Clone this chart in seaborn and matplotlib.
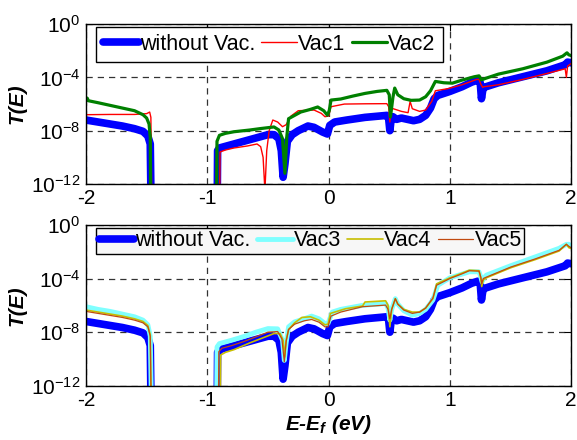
import numpy as np
import pandas as pd
import matplotlib
matplotlib.use("Agg")
import matplotlib.pyplot as plt
from matplotlib import ticker
import seaborn as sns

# ---- transmission spectra, stored as (energy, log10 T) pairs ----
# values of -16 stand for the gap region where T(E) vanishes
pristine_E = [-2.00, -1.90, -1.80, -1.70, -1.60, -1.53, -1.49, -1.47, -1.46, -0.92, -0.915, -0.90, -0.80, -0.70,
              -0.60, -0.50, -0.45, -0.41, -0.39, -0.375, -0.36, -0.34, -0.30, -0.25, -0.17, -0.12, -0.05, -0.01,
              0.01, 0.05, 0.15, 0.30, 0.48, 0.495, 0.505, 0.515, 0.53, 0.56, 0.60, 0.65, 0.70, 0.75, 0.80, 0.84,
              0.87, 0.90, 1.00, 1.10, 1.18, 1.23, 1.25, 1.26, 1.27, 1.28, 1.40, 1.60, 1.80, 1.95, 1.97, 2.00]
pristine_logT = [-7.2, -7.35, -7.5, -7.65, -7.85, -8.05, -8.4, -9.0, -16, -16, -9.5, -9.3, -9.05, -8.8,
                 -8.55, -8.3, -8.3, -8.6, -9.5, -11.5, -10.5, -8.8, -8.3, -8.0, -7.65, -7.75, -8.1, -8.25,
                 -7.6, -7.35, -7.2, -7.0, -6.85, -7.1, -8.0, -7.2, -6.95, -7.15, -7.05, -7.15, -7.25, -7.15, -6.85, -6.3,
                 -5.6, -5.35, -5.05, -4.7, -4.35, -4.2, -4.4, -5.6, -5.0, -4.75, -4.4, -3.95, -3.5, -3.05, -2.85, -2.9]

vac1_E = [-2.00, -1.80, -1.60, -1.50, -1.475, -1.465, -1.455, -0.90, -0.895, -0.85, -0.78, -0.67, -0.59, -0.56,
          -0.54, -0.525, -0.51, -0.49, -0.46, -0.42, -0.38, -0.35, -0.31, -0.25, -0.12, -0.06, -0.03, 0.00,
          0.02, 0.13, 0.30, 0.48, 0.495, 0.505, 0.515, 0.55, 0.60, 0.655, 0.672, 0.69, 0.75, 0.80, 0.85, 0.88,
          0.98, 1.10, 1.22, 1.24, 1.255, 1.27, 1.28, 1.40, 1.60, 1.80, 1.93, 1.95, 1.96, 1.97, 2.00]
vac1_logT = [-6.8, -6.78, -6.78, -6.72, -6.6, -7.0, -16, -16, -9.6, -9.45, -9.3, -9.15, -9.0, -9.2,
             -10.0, -12.5, -9.5, -8.0, -7.2, -7.35, -7.7, -7.55, -6.9, -6.5, -6.45, -6.7, -6.95, -6.9,
             -6.2, -6.0, -5.98, -5.97, -6.2, -7.35, -6.3, -6.4, -6.55, -6.65, -5.8, -6.35, -6.55, -6.45, -5.8, -5.0,
             -4.85, -4.55, -4.15, -4.15, -4.5, -4.75, -4.7, -4.55, -4.15, -3.7, -3.4, -3.35, -4.0, -3.15, -2.95]

vac2_E = [-2.00, -1.99, -1.98, -1.90, -1.80, -1.70, -1.60, -1.53, -1.50, -1.48, -1.47, -1.465, -0.925, -0.92,
          -0.90, -0.85, -0.78, -0.65, -0.56, -0.45, -0.41, -0.38, -0.36, -0.345, -0.33, -0.30, -0.23, -0.15,
          -0.09, -0.04, -0.01, 0.005, 0.02, 0.10, 0.20, 0.30, 0.40, 0.48, 0.50, 0.51, 0.53, 0.545, 0.57, 0.62,
          0.68, 0.75, 0.80, 0.84, 0.88, 0.95, 1.02, 1.10, 1.20, 1.24, 1.26, 1.30, 1.40, 1.60, 1.80, 1.93,
          1.965, 1.98, 2.00]
vac2_logT = [-5.75, -5.55, -5.75, -5.9, -6.1, -6.3, -6.5, -6.8, -7.05, -7.5, -8.5, -16, -16, -8.8,
             -8.35, -8.2, -8.08, -7.95, -7.84, -7.72, -7.95, -8.6, -11.2, -8.5, -7.1, -6.95, -6.6, -6.4,
             -6.22, -6.5, -6.84, -6.5, -5.7, -5.62, -5.4, -5.2, -5.05, -4.97, -5.3, -6.97, -5.5, -4.8, -5.3, -5.6,
             -5.72, -5.7, -5.45, -5.0, -4.3, -4.4, -4.43, -4.2, -3.95, -3.88, -4.18, -4.05, -3.75, -3.35, -2.85, -2.4,
             -2.15, -2.3, -2.36]

vac3_E = [-2.00, -1.90, -1.80, -1.70, -1.60, -1.53, -1.49, -1.47, -1.455, -0.925, -0.92, -0.90, -0.80, -0.69,
          -0.60, -0.50, -0.42, -0.38, -0.365, -0.35, -0.33, -0.28, -0.20, -0.14, -0.08, -0.03, -0.005, 0.03,
          0.10, 0.28, 0.47, 0.49, 0.505, 0.52, 0.55, 0.57, 0.62, 0.69, 0.75, 0.80, 0.86, 0.90, 1.00, 1.16,
          1.24, 1.255, 1.265, 1.28, 1.30, 1.50, 1.70, 1.90, 1.96, 1.98, 2.00]
vac3_logT = [-6.1, -6.3, -6.45, -6.65, -6.85, -7.1, -7.45, -8.3, -16, -16, -9.1, -8.85, -8.6, -8.3,
             -8.0, -7.73, -7.75, -8.6, -10.1, -8.8, -7.6, -7.23, -7.0, -6.8, -7.0, -7.35, -7.35, -6.5,
             -6.3, -6.0, -5.86, -6.2, -7.1, -6.3, -5.5, -5.9, -6.4, -6.73, -6.6, -6.3, -5.6, -4.5, -3.95, -3.5,
             -3.5, -3.9, -4.25, -3.95, -3.75, -3.05, -2.4, -1.75, -1.45, -1.45, -1.6]

vac4_E = [-2.00, -1.90, -1.80, -1.70, -1.60, -1.53, -1.49, -1.47, -1.46, -0.895, -0.89, -0.85, -0.78, -0.65,
          -0.55, -0.45, -0.40, -0.375, -0.362, -0.35, -0.33, -0.28, -0.22, -0.15, -0.08, -0.03, -0.005, 0.015,
          0.14, 0.28, 0.30, 0.47, 0.49, 0.505, 0.52, 0.55, 0.57, 0.62, 0.69, 0.75, 0.80, 0.86, 0.89, 1.00,
          1.10, 1.16, 1.24, 1.255, 1.262, 1.275, 1.30, 1.50, 1.70, 1.90, 1.96, 1.98, 2.00]
vac4_logT = [-6.35, -6.5, -6.65, -6.8, -7.0, -7.2, -7.5, -8.2, -16, -16, -9.7, -9.5, -9.3, -8.8,
             -8.45, -8.1, -8.1, -8.6, -9.85, -8.6, -7.8, -7.3, -6.9, -6.85, -7.1, -7.45, -7.4, -6.6,
             -6.25, -6.05, -5.75, -5.66, -6.0, -7.6, -6.3, -5.5, -5.9, -6.3, -6.5, -6.5, -6.2, -5.5, -4.4, -3.95,
             -3.6, -3.38, -3.42, -4.0, -4.6, -4.1, -3.95, -3.2, -2.6, -1.95, -1.45, -1.7, -1.76]

vac5_E = [-2.00, -1.90, -1.80, -1.70, -1.60, -1.53, -1.49, -1.47, -1.458, -0.91, -0.905, -0.88, -0.80, -0.70,
          -0.60, -0.50, -0.42, -0.385, -0.365, -0.35, -0.33, -0.28, -0.20, -0.14, -0.08, -0.03, -0.005, 0.02,
          0.10, 0.28, 0.47, 0.49, 0.505, 0.52, 0.55, 0.57, 0.62, 0.69, 0.75, 0.80, 0.86, 0.89, 1.00, 1.10,
          1.16, 1.24, 1.255, 1.262, 1.275, 1.30, 1.50, 1.70, 1.90, 1.96, 1.98, 2.00]
vac5_logT = [-6.45, -6.6, -6.75, -6.9, -7.1, -7.3, -7.6, -8.3, -16, -16, -9.45, -9.2, -9.0, -8.7,
             -8.35, -8.0, -7.95, -8.5, -10.2, -8.7, -7.8, -7.4, -7.15, -7.05, -7.25, -7.6, -7.6, -6.8,
             -6.5, -6.1, -5.98, -6.3, -7.0, -6.3, -5.5, -5.9, -6.35, -6.6, -6.5, -6.2, -5.45, -4.5, -4.0, -3.65,
             -3.42, -3.45, -3.9, -4.4, -4.0, -3.9, -3.15, -2.55, -1.9, -1.45, -1.6, -1.7]

x_ticks = [-2, -1, 0, 1, 2]
y_ticks = [1e-12, 1e-8, 1e-4, 1e0]

sns.set_theme(style="white")
plt.rcParams.update({
    "font.family": ["Liberation Sans", "DejaVu Sans"],
    "mathtext.fontset": "custom",
    "mathtext.rm": "Liberation Sans",
    "mathtext.it": "Liberation Sans:italic",
    "mathtext.bf": "Liberation Sans:bold",
    "mathtext.bfit": "Liberation Sans:bold:italic",
    "axes.unicode_minus": False,
    "lines.solid_capstyle": "round",
    "lines.solid_joinstyle": "round",
    "text.color": "black",
    "axes.labelcolor": "black",
    "xtick.color": "black",
    "ytick.color": "black",
    "axes.edgecolor": "black",
})

fig = plt.figure(figsize=(5.77, 4.40), dpi=100)
ax_top = fig.add_axes([0.149, 0.582, 0.841, 0.363])
ax_bot = fig.add_axes([0.149, 0.123, 0.841, 0.366])


def draw(ax, E, logT, color, lw, label):
    df = pd.DataFrame({"E": E, "T": np.power(10.0, np.asarray(logT, dtype=float))})
    sns.lineplot(data=df, x="E", y="T", ax=ax, color=color, lw=lw, label=label,
                 estimator=None, sort=False)


draw(ax_top, pristine_E, pristine_logT, "#0000ff", 5.5, "without Vac.")
draw(ax_top, vac1_E, vac1_logT, "#ff0000", 1.0, "Vac1")
draw(ax_top, vac2_E, vac2_logT, "#008000", 2.3, "Vac2")

draw(ax_bot, pristine_E, pristine_logT, "#0000ff", 5.5, "without Vac.")
draw(ax_bot, vac3_E, vac3_logT, "#80ffff", 3.5, "Vac3")
draw(ax_bot, vac4_E, vac4_logT, "#c8be00", 1.2, "Vac4")
draw(ax_bot, vac5_E, vac5_logT, "#c04a10", 0.9, "Vac5")

for ax, ncol, face, bpad in [(ax_top, 3, "white", 0.32), (ax_bot, 4, "#f7f7f7", 0.12)]:
    ax.set_yscale("log")
    ax.set_xlim(-2, 2)
    ax.set_ylim(1e-12, 1e0)
    ax.set_xticks(x_ticks)
    ax.set_yticks(y_ticks)
    ax.yaxis.set_minor_locator(ticker.NullLocator())
    ax.xaxis.set_minor_locator(ticker.NullLocator())
    ax.tick_params(direction="in", length=5, width=0.8, top=True, right=True,
                   labelsize=15, pad=4, colors="black")
    ax.grid(True, which="major", linestyle=(0, (5, 4)), color="#333333", lw=0.9)
    ax.set_axisbelow(True)
    for s in ax.spines.values():
        s.set_color("black")
        s.set_linewidth(1.0)
    ax.set_ylabel("T(E)", fontsize=15, fontweight="bold", style="italic", labelpad=3,
                  color="black")
    ax.set_xlabel("")
    leg = ax.legend(loc="upper left", bbox_to_anchor=(0.021, 0.982), ncol=ncol,
                    fontsize=15.5, frameon=True, fancybox=False, framealpha=1,
                    edgecolor="black", facecolor=face, handlelength=1.65,
                    handletextpad=0.05, columnspacing=0.3, borderpad=bpad,
                    borderaxespad=0)
    leg.get_frame().set_linewidth(1.0)
    for t in leg.get_texts():
        t.set_color("black")

ax_bot.set_xlabel(r"E-E$_{\mathbfit{f}}$ (eV)", fontsize=15, fontweight="bold",
                  style="italic", labelpad=2, color="black")

fig.savefig("out.png", dpi=100)
